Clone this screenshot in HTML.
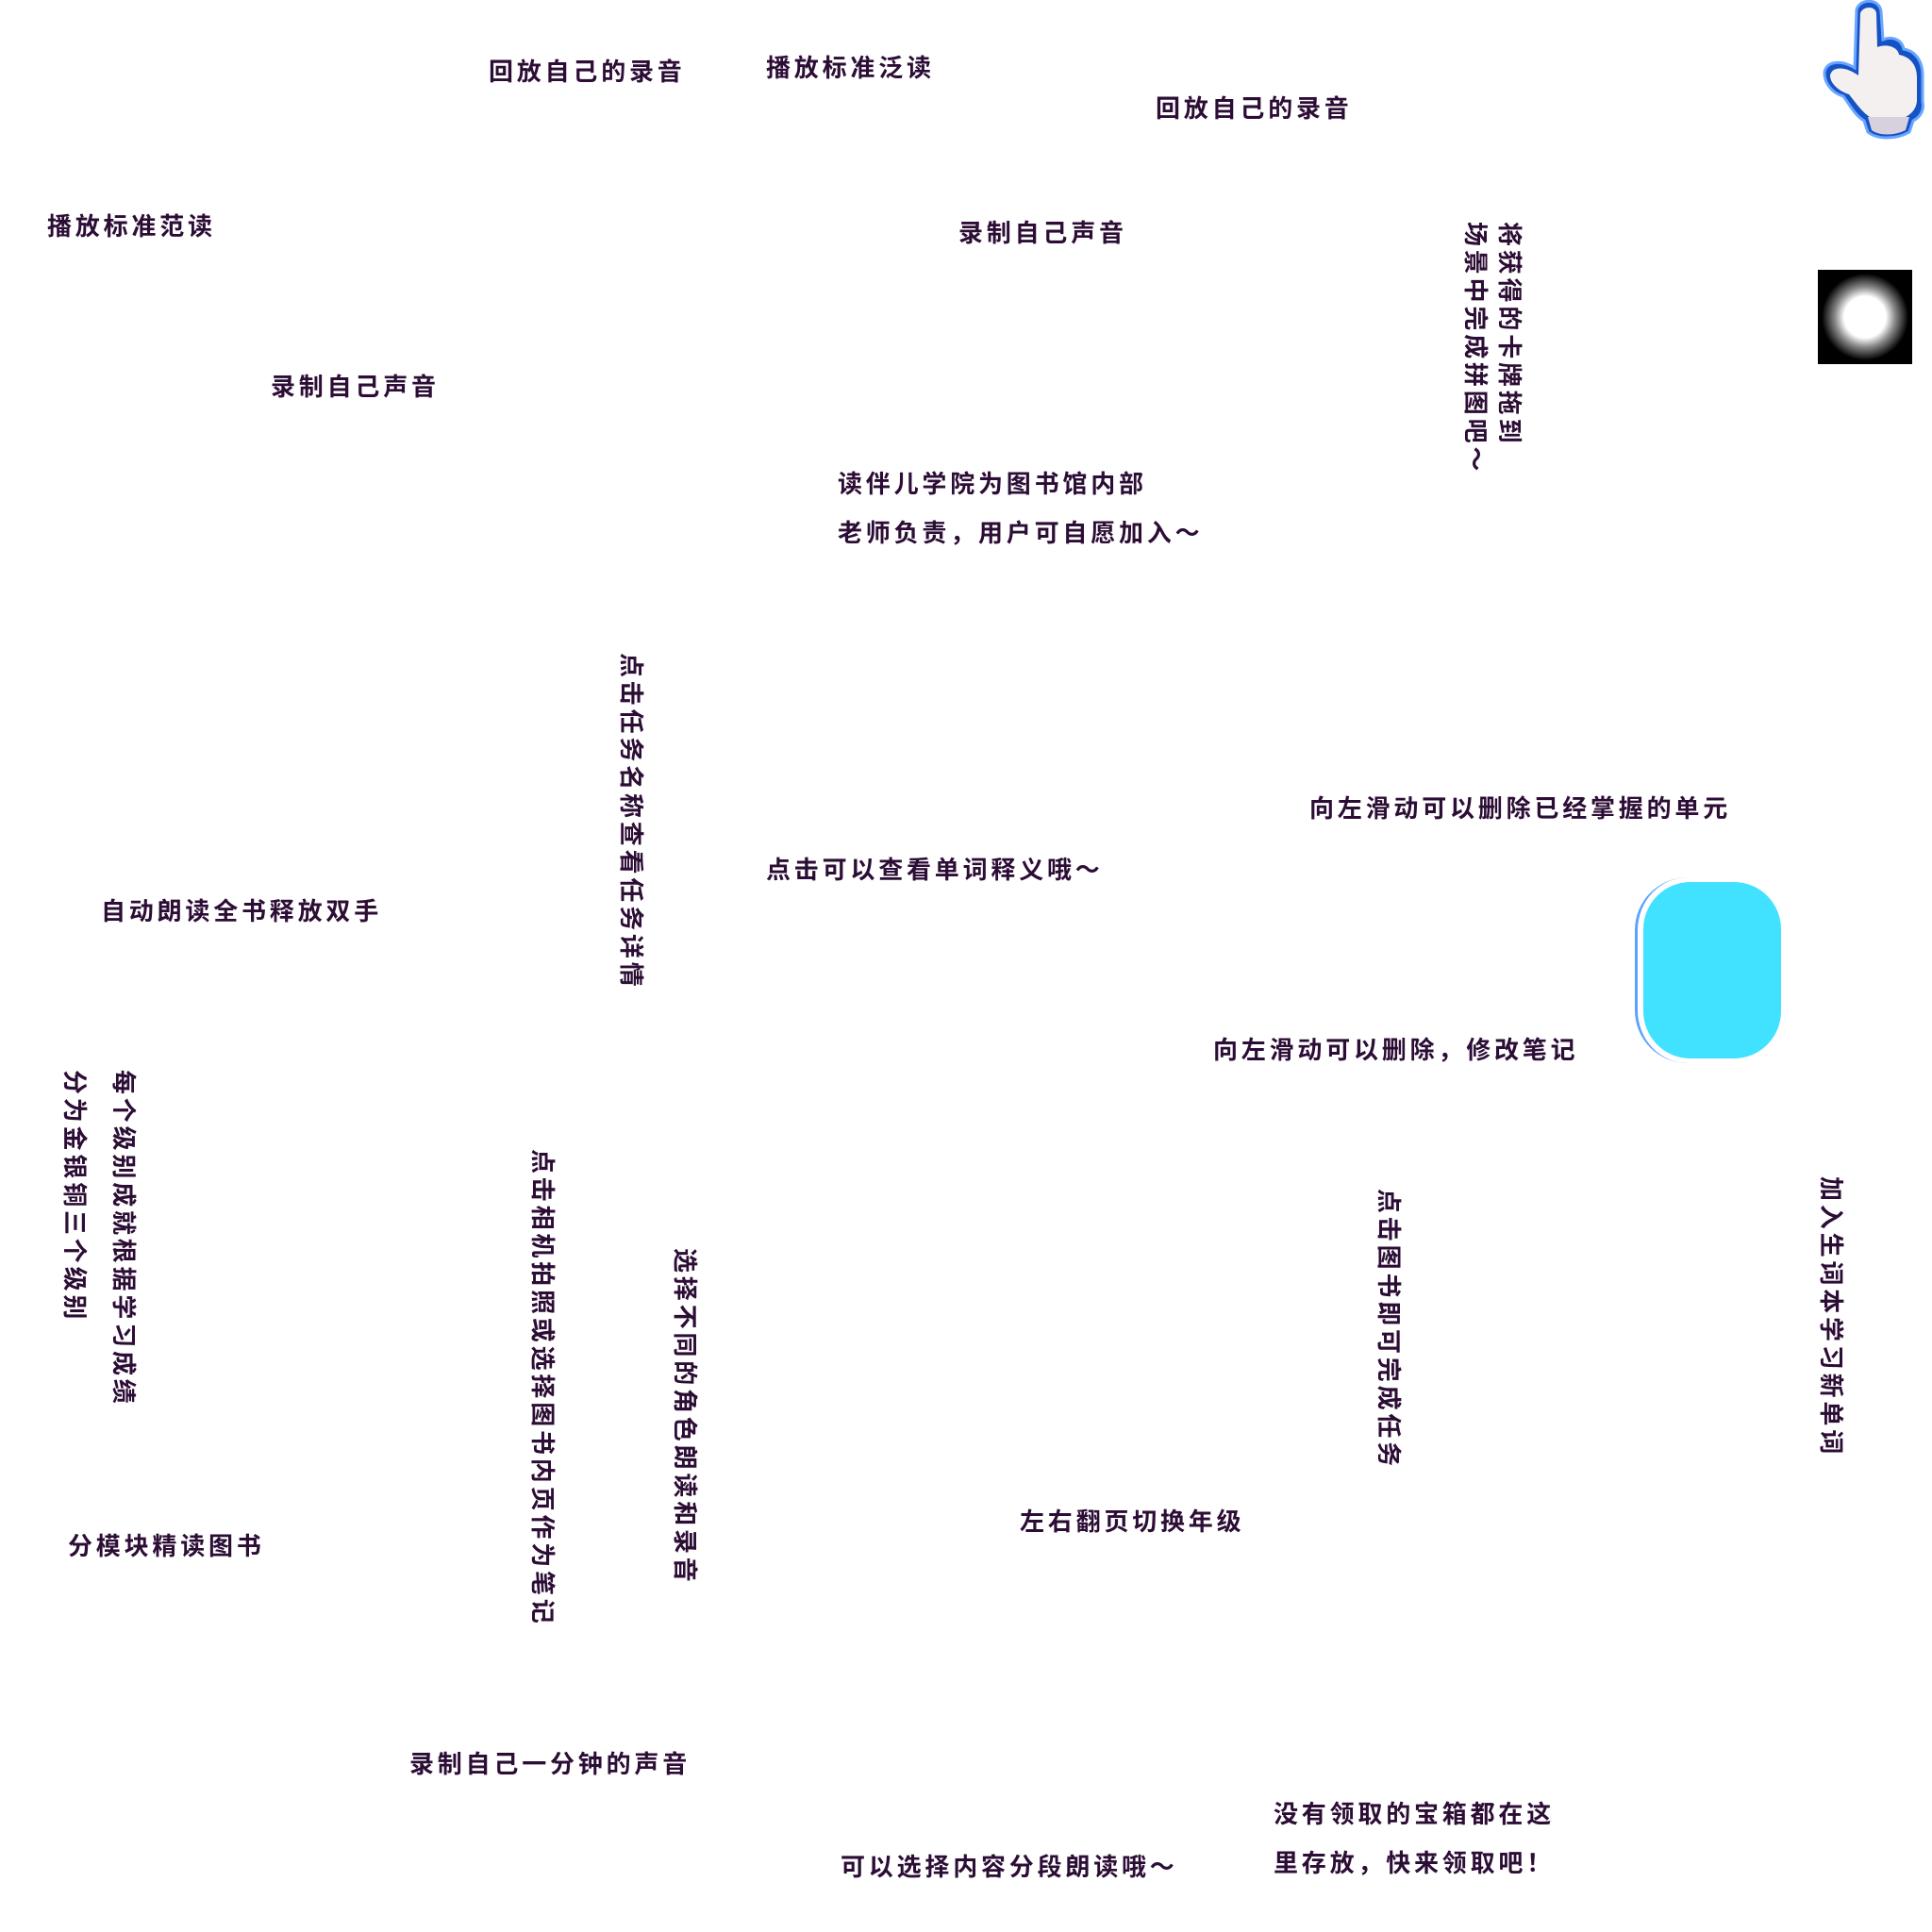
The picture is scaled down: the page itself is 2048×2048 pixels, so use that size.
<!DOCTYPE html>
<html><head><meta charset="utf-8"><style>
body{margin:0;width:2048px;height:2048px;background:#fff;position:relative;overflow:hidden;font-family:"Liberation Sans","Noto Sans CJK SC",sans-serif;}
.t{position:absolute;font-size:26px;letter-spacing:3.8px;line-height:30px;color:#2c0d35;font-weight:bold;white-space:nowrap;}
.t2{line-height:52px;}
.v{transform:rotate(90deg);transform-origin:0 0;}
</style></head><body>
<div class="t" style="left:518px;top:61px">回放自己的录音</div>
<div class="t" style="left:812px;top:57px">播放标准泛读</div>
<div class="t" style="left:1225px;top:100px">回放自己的录音</div>
<div class="t" style="left:50px;top:225px">播放标准范读</div>
<div class="t" style="left:1016px;top:232px">录制自己声音</div>
<div class="t" style="left:287px;top:395px">录制自己声音</div>
<div class="t t2" style="left:888px;top:487px">读伴儿学院为图书馆内部<br>老师负责，用户可自愿加入～</div>
<div class="t v" style="left:1618px;top:235px;line-height:36px">将获得的卡牌拖到<br>场景中完成拼图吧～</div>
<div class="t v" style="left:684px;top:692px">点击任务名称查看任务详情</div>
<div class="t" style="left:1388px;top:842px">向左滑动可以删除已经掌握的单元</div>
<div class="t" style="left:812px;top:907px">点击可以查看单词释义哦～</div>
<div class="t" style="left:107px;top:951px">自动朗读全书释放双手</div>
<div class="t" style="left:1286px;top:1098px">向左滑动可以删除，修改笔记</div>
<div class="t v" style="left:157px;top:1134px;line-height:52px">每个级别成就根据学习成绩<br>分为金银铜三个级别</div>
<div class="t v" style="left:590px;top:1218px">点击相机拍照或选择图书内页作为笔记</div>
<div class="t v" style="left:741px;top:1323px">选择不同的角色朗读和录音</div>
<div class="t v" style="left:1487px;top:1260px">点击图书即可完成任务</div>
<div class="t v" style="left:1956px;top:1247px">加入生词本学习新单词</div>
<div class="t" style="left:1081px;top:1598px">左右翻页切换年级</div>
<div class="t" style="left:72px;top:1624px">分模块精读图书</div>
<div class="t" style="left:434px;top:1855px">录制自己一分钟的声音</div>
<div class="t t2" style="left:1350px;top:1897px">没有领取的宝箱都在这<br>里存放，快来领取吧！</div>
<div class="t" style="left:891px;top:1964px">可以选择内容分段朗读哦～</div>

<svg style="position:absolute;left:1920px;top:0" width="128" height="155" viewBox="0 0 128 155">
<path d="M48 10 C52 -2 72 -2 74 12 L76 42 C86 38 96 42 98 52 C110 54 118 64 118 80 L118 108 C120 116 116 124 108 128 L104 140 C90 148 70 148 60 140 L56 128 C46 122 40 110 34 102 C20 98 14 86 14 78 C14 66 30 62 46 72 Z" fill="#1553c4" stroke="#6aa6ff" stroke-width="3"/>
<path d="M52 14 C55 6 68 6 69 14 L70 50 C80 46 92 50 93 58 C104 60 112 68 112 82 L112 106 C112 116 104 124 94 126 L66 126 C56 122 48 110 40 100 C28 96 20 88 20 80 C22 70 36 70 50 80 Z" fill="#f4f0f0"/>
<path d="M60 124 L104 124 L100 138 C88 144 72 144 64 138 Z" fill="#d8d0dc"/>
</svg>

<div style="position:absolute;left:1927px;top:286px;width:100px;height:100px;background:radial-gradient(circle at 50% 50%,#fff 0,#fff 22px,#888 32px,#000 46px);"></div>

<div style="position:absolute;left:1733px;top:930px;width:60px;height:197px;border-left:3px solid #5aa2ff;border-radius:56px 0 0 56px;"></div>
<div style="position:absolute;left:1742px;top:935px;width:146px;height:187px;background:#40e2ff;border-radius:50px;"></div>
</body></html>
